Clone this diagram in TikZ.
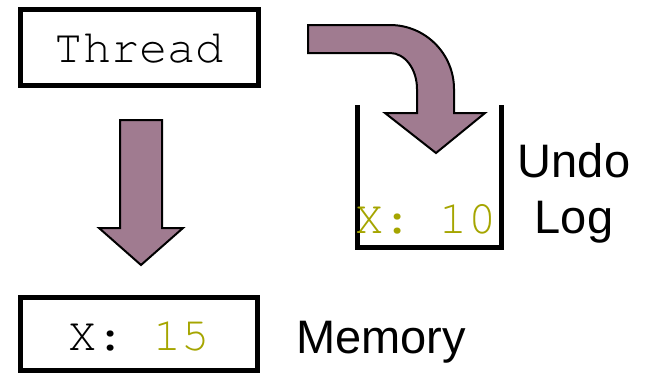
\documentclass[tikz,border=0pt]{standalone}
\usepackage{fontspec}
\setmainfont{Liberation Sans}
\newfontfamily\monofnt{TeX Gyre Cursor}
\definecolor{arrowpurple}{RGB}{160,123,144}
\definecolor{olivetext}{RGB}{165,165,0}
\tikzset{
  boxnode/.style={draw=black, line width=5bp, rectangle, inner sep=0pt,
    font=\monofnt\fontsize{47bp}{56bp}\selectfont, text height=29bp, text depth=0bp},
  blockarrow/.style={fill=arrowpurple, draw=black, line width=2bp, line join=miter},
  labeltext/.style={font=\fontsize{47bp}{56bp}\selectfont, inner sep=0pt},
}
\begin{document}
\begin{tikzpicture}[x=1bp,y=-1bp]
\useasboundingbox (0,0) rectangle (646,375);
% Thread box
\node[boxnode, minimum width=238bp, minimum height=76bp] (thread) at (139.5,47.5) {Thread};
% Memory box
\node[boxnode, minimum width=237bp, minimum height=73bp, text height=32bp] (memory) at (139,334) {X: \textcolor{olivetext}{15}};
\node[labeltext, anchor=base west] (memlabel) at (296,353) {Memory};
% straight down arrow
\draw[blockarrow] (120,120) -- (162,120) -- (162,228) -- (183,228) -- (141,265) -- (99,228) -- (120,228) -- cycle;
% curved arrow
\draw[blockarrow] (308,25) -- (390,25) .. controls (425.3,25) and (454,53.7) .. (454,89)
  -- (454,113) -- (485,113) -- (436,153) -- (385,113) -- (417,113) -- (417,89)
  .. controls (417,69.1) and (404.9,53) .. (390,53) -- (308,53) -- cycle;
% bucket
\coordinate (bl) at (357.5,105);
\coordinate (br) at (501.5,105);
\draw[line width=5bp, line join=miter] (bl) -- (357.5,247.5) -- (501.5,247.5) -- (br);
\node[font=\monofnt\fontsize{47bp}{56bp}\selectfont, text=olivetext, inner sep=0pt, anchor=base west] (logentry) at (355,233) {X: 10};
\node[labeltext, align=center] (undolog) at (574,193) {Undo\\Log};
\end{tikzpicture}
\end{document}
